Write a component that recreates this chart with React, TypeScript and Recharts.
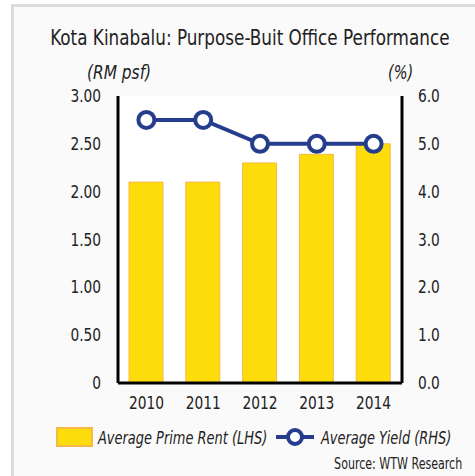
import { Bar, ComposedChart, Line, XAxis, YAxis } from 'recharts';

const YEARS = ['2010', '2011', '2012', '2013', '2014'];
const PRIME_RENT = [2.1, 2.1, 2.3, 2.39, 2.5];
const AVG_YIELD = [5.5, 5.5, 5.0, 5.0, 5.0];
const LEFT_TICKS = [0, 0.5, 1, 1.5, 2, 2.5, 3];
const RIGHT_TICKS = [0, 1, 2, 3, 4, 5, 6];

const DATA = YEARS.map((year, i) => ({
  year,
  rent: PRIME_RENT[i],
  yld: AVG_YIELD[i],
}));

const FONT = '"DejaVu Sans Condensed", "DejaVu Sans", sans-serif';
const SQUEEZE = 0.85;
const YELLOW = '#FCDC0A';
const BAR_EDGE = '#F6B944';
const NAVY = '#263D8E';
const INK = '#222';

// condensed look: the installed fonts are too wide, so squeeze them a bit
function Narrow({
  children,
  origin = 'left',
  scale = SQUEEZE,
}: {
  children: React.ReactNode;
  origin?: string;
  scale?: number;
}) {
  return (
    <span
      style={{
        display: 'inline-block',
        transform: `scaleX(${scale})`,
        transformOrigin: origin,
        whiteSpace: 'nowrap',
      }}
    >
      {children}
    </span>
  );
}

function makeTick(anchor: 'start' | 'middle' | 'end', fmt: (v: any) => string, dy: number) {
  return (props: any) => {
    const { x, y, payload } = props;
    return (
      <text
        transform={`translate(${x},${y}) scale(${SQUEEZE},1)`}
        textAnchor={anchor}
        dy={dy}
        fill={INK}
        fontSize={18}
        fontFamily={FONT}
      >
        {fmt(payload.value)}
      </text>
    );
  };
}

const leftTick = makeTick('end', (v: number) => (v === 0 ? '0' : v.toFixed(2)), 6);
const rightTick = makeTick('start', (v: number) => v.toFixed(1), 6);
const bottomTick = makeTick('middle', (v: string) => v, 14);

export default function App() {
  return (
    <div
      style={{
        position: 'absolute',
        left: 0,
        top: 0,
        width: 475,
        height: 476,
        background: '#fff',
        overflow: 'hidden',
        fontFamily: FONT,
        color: INK,
      }}
    >
      {/* grey frame of the panel */}
      <div
        style={{
          position: 'absolute',
          left: 11,
          top: 4,
          width: 480,
          height: 490,
          border: '3px solid #dcdcdc',
          background: '#fafafa',
        }}
      />
      <div style={{ position: 'absolute', left: 0, top: 25, width: 500, textAlign: 'center', fontSize: 22 }}>
        <Narrow origin="center">Kota Kinabalu: Purpose-Buit Office Performance</Narrow>
      </div>
      <div style={{ position: 'absolute', left: 87, top: 61, fontSize: 19, fontStyle: 'italic' }}>
        <Narrow scale={0.9}>(RM psf)</Narrow>
      </div>
      <div style={{ position: 'absolute', left: 388, top: 61, fontSize: 19, fontStyle: 'italic' }}>
        <Narrow>(%)</Narrow>
      </div>

      <div style={{ position: 'absolute', left: 0, top: 0 }}>
        <ComposedChart
          width={475}
          height={476}
          data={DATA}
          barSize={34}
          margin={{ top: 96, right: 13, bottom: 63, left: 58 }}
        >
          <rect x={118} y={96} width={284} height={287} fill="#fff" />
          <XAxis
            dataKey="year"
            axisLine={{ stroke: '#000', strokeWidth: 3 }}
            tickLine={false}
            tick={bottomTick}
            tickMargin={6}
            height={30}
          />
          <YAxis
            yAxisId="left"
            domain={[0, 3]}
            ticks={LEFT_TICKS}
            width={60}
            axisLine={{ stroke: '#000', strokeWidth: 3 }}
            tickLine={false}
            tick={leftTick}
            tickMargin={11}
          />
          <YAxis
            yAxisId="right"
            orientation="right"
            domain={[0, 6]}
            ticks={RIGHT_TICKS}
            width={60}
            axisLine={{ stroke: '#000', strokeWidth: 3 }}
            tickLine={false}
            tick={rightTick}
            tickMargin={10}
          />
          <Bar
            yAxisId="left"
            dataKey="rent"
            fill={YELLOW}
            stroke={BAR_EDGE}
            strokeWidth={1}
            isAnimationActive={false}
          />
          <Line
            yAxisId="right"
            dataKey="yld"
            stroke={NAVY}
            strokeWidth={4}
            dot={{ r: 8, stroke: NAVY, strokeWidth: 4, fill: '#fff' }}
            isAnimationActive={false}
          />
        </ComposedChart>
      </div>

      {/* legend */}
      <div
        style={{
          position: 'absolute',
          left: 56,
          top: 427,
          height: 20,
          width: 37,
          boxSizing: 'border-box',
          background: YELLOW,
          border: `2px solid ${BAR_EDGE}`,
        }}
      />
      <div style={{ position: 'absolute', left: 98, top: 427, fontSize: 18, fontStyle: 'italic' }}>
        <Narrow scale={0.8}>Average Prime Rent (LHS)</Narrow>
      </div>
      <svg width={38} height={22} style={{ position: 'absolute', left: 276, top: 426 }}>
        <line x1={0} y1={11} x2={38} y2={11} stroke={NAVY} strokeWidth={4} />
        <circle cx={19} cy={11} r={7} fill="#fff" stroke={NAVY} strokeWidth={4} />
      </svg>
      <div style={{ position: 'absolute', left: 321, top: 427, fontSize: 18, fontStyle: 'italic' }}>
        <Narrow scale={0.8}>Average Yield (RHS)</Narrow>
      </div>
      <div style={{ position: 'absolute', right: 13, top: 455, fontSize: 15 }}>
        <Narrow origin="right" scale={0.82}>Source: WTW Research</Narrow>
      </div>
    </div>
  );
}
